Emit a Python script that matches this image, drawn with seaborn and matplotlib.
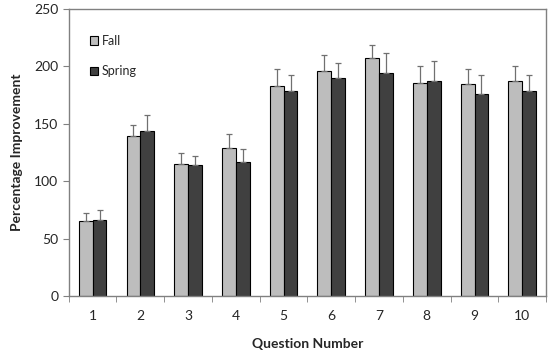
import numpy as np
import pandas as pd
import matplotlib
matplotlib.use("Agg")
import matplotlib.pyplot as plt
import seaborn as sns

# Datos
preguntas = ['1', '2', '3', '4', '5', '6', '7', '8', '9', '10']
fall = [65, 139, 115, 129, 183, 196, 207, 186, 185, 187]
spring = [66, 144, 114, 117, 179, 190, 194, 187, 176, 179]
fall_err = [7, 10, 10, 12, 15, 14, 12, 14, 13, 13]
spring_err = [9, 14, 8, 11, 14, 13, 18, 18, 17, 14]

sns.set_style("white")
plt.rcParams['font.family'] = ['Lato', 'DejaVu Sans']

df = pd.DataFrame({
    'Question Number': preguntas * 2,
    'Percentage Improvement': fall + spring,
    'Semestre': ['Fall'] * 10 + ['Spring'] * 10,
})

fig, ax = plt.subplots(figsize=(5.5, 3.51), dpi=100)
fig.subplots_adjust(left=0.125, right=0.993, top=0.974, bottom=0.157)

sns.barplot(data=df, x='Question Number', y='Percentage Improvement',
            hue='Semestre', palette=['#bdbdbd', '#404040'],
            width=0.58, gap=0, edgecolor='black', linewidth=0.8,
            errorbar=None, ax=ax)

# barras de error solo hacia arriba
for cont, errs in zip(ax.containers, [fall_err, spring_err]):
    xs = [p.get_x() + p.get_width() / 2 for p in cont.patches]
    ys = [p.get_height() for p in cont.patches]
    ax.errorbar(xs, ys, yerr=[np.zeros(len(errs)), errs], fmt='none',
                ecolor='#707070', elinewidth=0.9, capsize=2.2, capthick=0.9)

ax.set_ylim(0, 250)
ax.set_xlim(-0.5, 9.5)
ax.set_yticks([0, 50, 100, 150, 200, 250])

# marcas del eje x entre grupos
ax.set_xticks(np.arange(-0.5, 10, 1), minor=True)
ax.tick_params(axis='x', which='major', length=0, labelsize=10, pad=10)
ax.tick_params(axis='x', which='minor', length=4, color='#808080', direction='out')
ax.tick_params(axis='y', length=4, color='#808080', direction='out', labelsize=10)
ax.xaxis.set_ticks_position('bottom')
ax.yaxis.set_ticks_position('left')

for s in ax.spines.values():
    s.set_color('#808080')
    s.set_linewidth(1)

ax.set_xlabel('Question Number', fontsize=10, fontweight='bold', labelpad=12)
ax.set_ylabel('Percentage Improvement', fontsize=10, fontweight='bold', labelpad=8)

ax.legend(loc='upper left', bbox_to_anchor=(0.02, 0.95), frameon=False,
          fontsize=9, handlelength=0.7, handleheight=0.7, handletextpad=0.3,
          labelspacing=1.5)

fig.savefig('out.png', dpi=100)
